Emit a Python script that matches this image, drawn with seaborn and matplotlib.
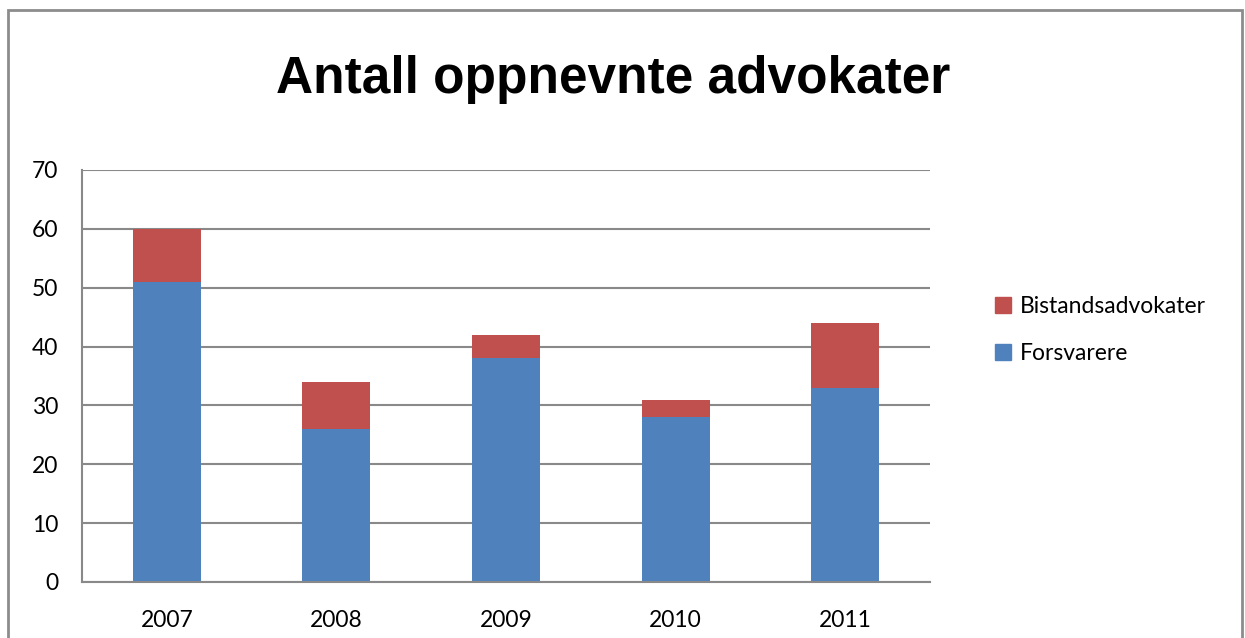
import matplotlib
matplotlib.use('Agg')
import matplotlib.pyplot as plt
import seaborn as sns
import pandas as pd
from matplotlib.patches import Rectangle, Patch

# ── Data ──────────────────────────────────────────────
years = ['2007', '2008', '2009', '2010', '2011']
forsvarere = [51, 26, 38, 28, 33]
bistandsadvokater = [9, 8, 4, 3, 11]

df = pd.DataFrame({'År': years, 'Forsvarere': forsvarere,
                   'Bistandsadvokater': bistandsadvokater})
df['Total'] = df['Forsvarere'] + df['Bistandsadvokater']

blue = '#4F81BD'
red = '#C0504D'
grid_col = '#898989'

sns.set_style('white')
plt.rcParams['font.family'] = ['Lato', 'DejaVu Sans']
plt.rcParams['text.color'] = 'black'
plt.rcParams['xtick.color'] = 'black'
plt.rcParams['ytick.color'] = 'black'

fig = plt.figure(figsize=(12.45, 6.38), dpi=100)
ax = fig.add_axes([82/1245, 1 - 582/638, (930 - 82)/1245, (582 - 170)/638])

# stacked bars: total (red) underneath, forsvarere (blue) on top
sns.barplot(data=df, x='År', y='Total', color=red, width=0.4, ax=ax,
            saturation=1, edgecolor='none')
sns.barplot(data=df, x='År', y='Forsvarere', color=blue, width=0.4, ax=ax,
            saturation=1, edgecolor='none')

ax.set_ylim(0, 70)
ax.set_xlim(-0.5, len(years) - 0.5)
ax.set_yticks(range(0, 71, 10))
ax.yaxis.grid(True, color=grid_col, linewidth=1.5)
ax.set_axisbelow(True)
ax.set_xlabel('')
ax.set_ylabel('')

for s in ['top', 'right']:
    ax.spines[s].set_visible(False)
for s in ['left', 'bottom']:
    ax.spines[s].set_color(grid_col)
    ax.spines[s].set_linewidth(1.5)

ax.tick_params(axis='y', length=8, width=1.5, color=grid_col, labelsize=16.5,
               pad=9, labelcolor='black')
ax.tick_params(axis='x', which='major', length=0, labelsize=16.5, pad=20,
               labelcolor='black')
ax.set_xticks([i - 0.5 for i in range(len(years) + 1)], minor=True)
ax.tick_params(axis='x', which='minor', length=8, width=1.5, color=grid_col)

fig.text(613/1245, 1 - 80/638, 'Antall oppnevnte advokater',
         ha='center', va='center', fontsize=37, fontweight='bold',
         family='Liberation Sans', color='black')

handles = [Patch(color=red, label='Bistandsadvokater'),
           Patch(color=blue, label='Forsvarere')]
fig.legend(handles=handles, loc='center left',
           bbox_to_anchor=(974/1245, 1 - 330/638), frameon=False,
           fontsize=16.5, handlelength=0.7, handleheight=0.7,
           handletextpad=0.4, labelspacing=1.15)

# outer chart border
fig.patches.append(Rectangle((8/1245, -0.05), (1242 - 8)/1245, 1.05 - 10/638,
                             transform=fig.transFigure, fill=False,
                             edgecolor='#8c8c8c', linewidth=2))

fig.savefig('out.png', dpi=100)
